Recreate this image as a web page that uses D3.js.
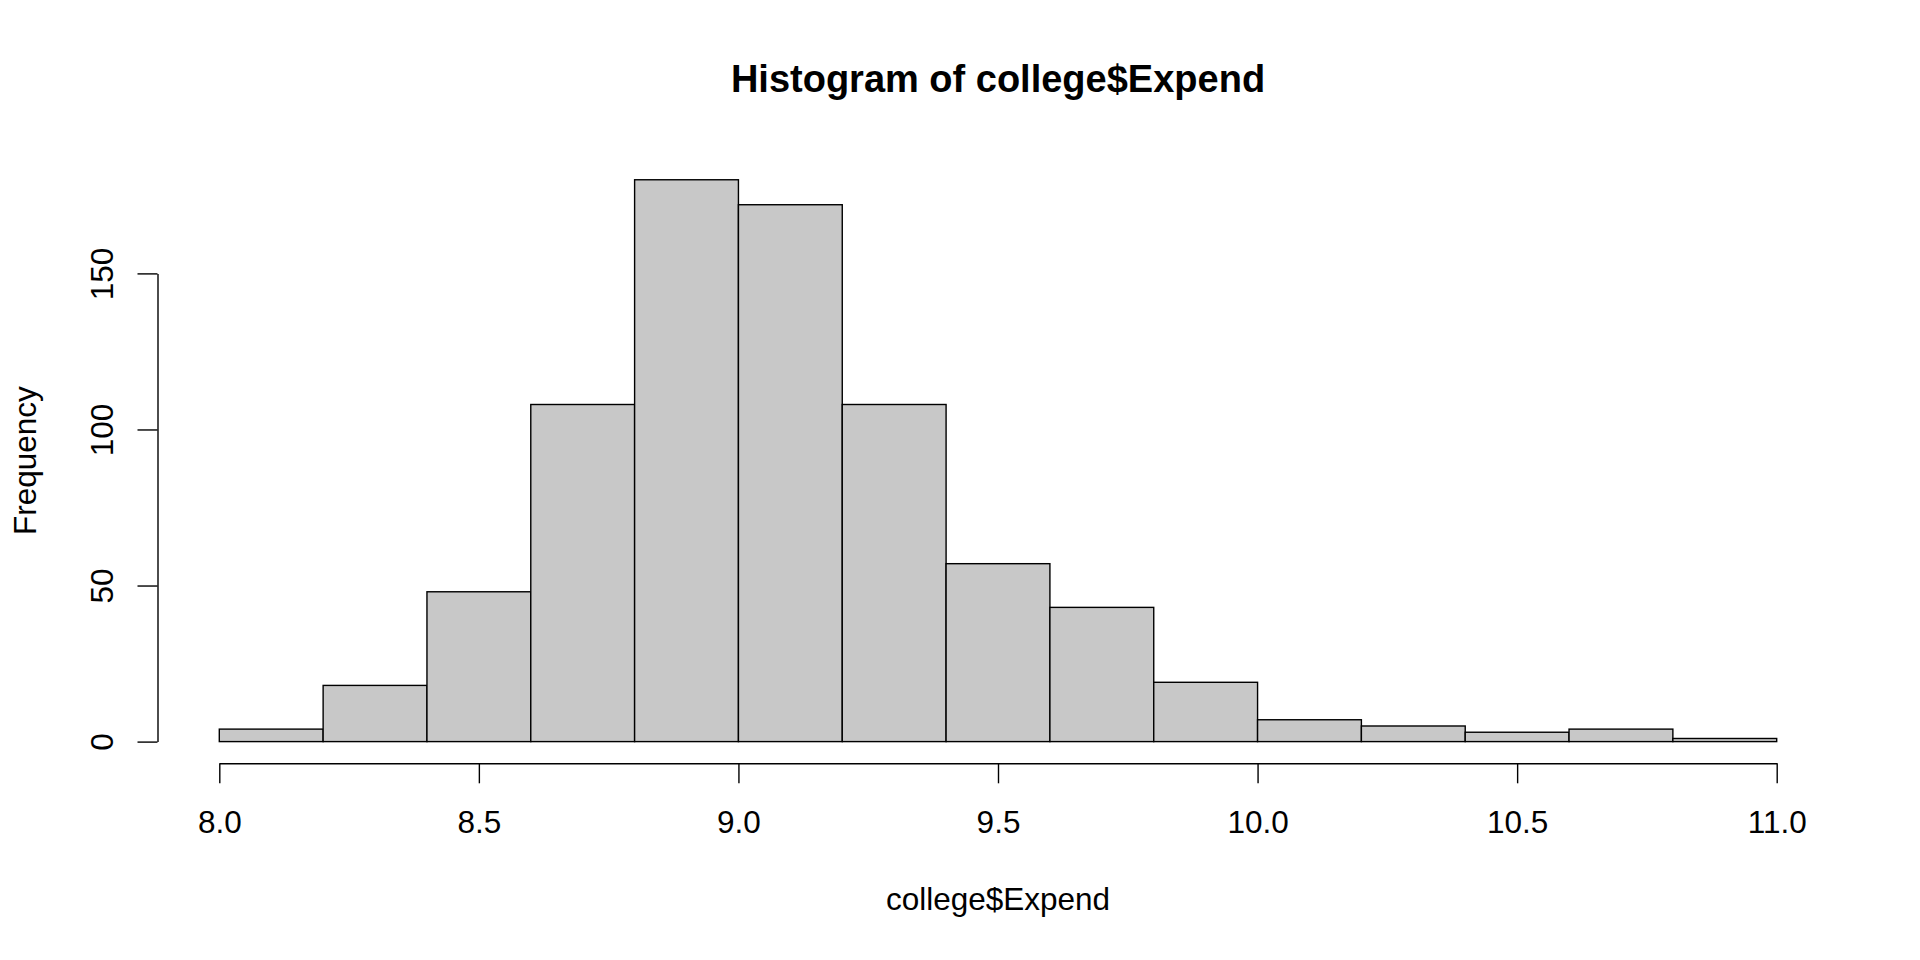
<!DOCTYPE html>
<html>
<head>
<meta charset="utf-8">
<script src="https://cdn.jsdelivr.net/npm/d3@7"></script>
<style>
  html, body { margin: 0; padding: 0; background: #ffffff; }
  svg { display: block; }
  text { font-family: "Liberation Sans", Arial, Helvetica, sans-serif; fill: #000; }
</style>
</head>
<body>
<svg id="chart" width="1920" height="960"></svg>
<script>
// ---- data ----
const binEdges = [8.0, 8.2, 8.4, 8.6, 8.8, 9.0, 9.2, 9.4, 9.6, 9.8, 10.0, 10.2, 10.4, 10.6, 10.8, 11.0];
const counts   = [4, 18, 48, 108, 180, 172, 108, 57, 43, 19, 7, 5, 3, 4, 1];
const xTicks   = [8.0, 8.5, 9.0, 9.5, 10.0, 10.5, 11.0];
const yTicks   = [0, 50, 100, 150];
const titleText = "Histogram of college$Expend";
const xLabel = "college$Expend";
const yLabel = "Frequency";

const bins = counts.map((c, i) => ({ x0: binEdges[i], x1: binEdges[i + 1], n: c }));

const svg = d3.select("#chart");
const x = d3.scaleLinear().domain([8, 11]).range([219.3, 1776.7]);
const y = d3.scaleLinear().domain([0, 150]).range([741.6, 273.4]);

const fontSize = 31.5;
const yMax = d3.max(counts);

// bars
svg.append("g").selectAll("rect")
  .data(bins)
  .join("rect")
  .attr("x", d => x(d.x0))
  .attr("y", d => y(d.n))
  .attr("width", d => x(d.x1) - x(d.x0))
  .attr("height", d => y(0) - y(d.n))
  .attr("fill", "#c8c8c8")
  .attr("stroke", "#000")
  .attr("stroke-width", 1.4);

// x axis
const xAxisG = svg.append("g")
  .attr("transform", "translate(0,763.3)")
  .call(d3.axisBottom(x).tickValues(xTicks).tickFormat(d3.format(".1f")).tickSize(20).tickSizeOuter(0).tickPadding(30));
xAxisG.select(".domain").attr("stroke", "#000").attr("stroke-width", 1.4);
xAxisG.selectAll(".tick line").attr("stroke", "#000").attr("stroke-width", 1.4);
xAxisG.selectAll(".tick text")
  .attr("font-family", "Liberation Sans, Arial, sans-serif")
  .attr("font-size", fontSize)
  .attr("fill", "#000")
  .attr("dy", null)
  .attr("y", 70);

// y axis
const yAxisG = svg.append("g")
  .attr("transform", "translate(157.5,0)")
  .call(d3.axisLeft(y).tickValues(yTicks).tickFormat(d3.format("d")).tickSize(20).tickSizeOuter(0));
yAxisG.select(".domain").attr("stroke", "#000").attr("stroke-width", 1.4);
yAxisG.selectAll(".tick line").attr("stroke", "#000").attr("stroke-width", 1.4);
yAxisG.selectAll(".tick text")
  .attr("font-family", "Liberation Sans, Arial, sans-serif")
  .attr("font-size", fontSize)
  .attr("fill", "#000")
  .attr("x", null)
  .attr("dy", null)
  .attr("text-anchor", "middle")
  .attr("transform", "translate(-44.5,0) rotate(-90)");

// title
svg.append("text")
  .attr("x", (x(8) + x(11)) / 2)
  .attr("y", 91.7)
  .attr("text-anchor", "middle")
  .attr("font-size", 38)
  .attr("font-weight", "bold")
  .text(titleText);

// x label
svg.append("text")
  .attr("x", (x(8) + x(11)) / 2)
  .attr("y", 910)
  .attr("text-anchor", "middle")
  .attr("font-size", fontSize)
  .text(xLabel);

// y label (centred on plot region, which spans 0..max count)
svg.append("text")
  .attr("transform", `translate(35.5,${y(yMax / 2)}) rotate(-90)`)
  .attr("text-anchor", "middle")
  .attr("font-size", fontSize)
  .text(yLabel);
</script>
</body>
</html>
